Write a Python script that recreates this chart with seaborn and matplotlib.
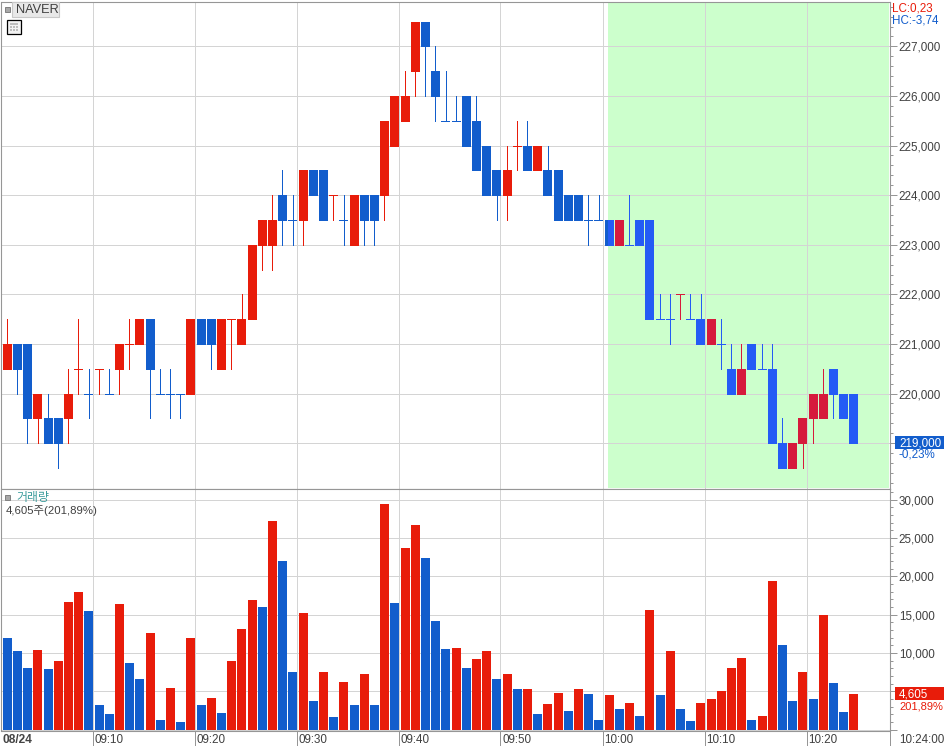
import numpy as np
import pandas as pd
import matplotlib
matplotlib.use("Agg")
import matplotlib.pyplot as plt
from matplotlib.patches import Rectangle
from matplotlib.ticker import MultipleLocator, FixedLocator
from matplotlib.transforms import ScaledTranslation
import seaborn as sns

OPEN = [220500,221000,221000,219500,219500,219500,219500,220500,220000,220500,
        220000,220500,221000,221000,221500,220000,220000,220000,220000,221500,
        221500,220500,221500,221000,221500,223000,223000,224000,223500,223500,
        224500,224500,224000,223500,223000,224000,224000,224000,225000,225500,
        226500,227500,226500,225500,225500,226000,225500,225000,224500,224000,
        225000,225000,224500,224500,224500,224000,224000,223500,223500,223500,
        223000,223000,223500,223500,221500,221500,222000,221500,221500,221000,
        221000,220500,220000,221000,220500,220500,219000,218500,219000,219500,
        219500,220500,220000,220000]
CLOSE = [221000,220500,219500,220000,219000,219000,220000,220500,220000,220500,
         220000,221000,221000,221500,220500,220000,220000,220000,221500,221000,
         221000,221500,221500,221500,223000,223500,223500,223500,223500,224500,
         224000,223500,224000,223500,224000,223500,223500,225500,226000,226000,
         227500,227000,226000,225500,225500,225000,224500,224000,224000,224500,
         225000,224500,225000,224000,223500,223500,223500,223500,223500,223000,
         223500,223000,223000,221500,221500,221500,222000,221500,221000,221500,
         221000,220000,220500,220500,220500,219000,218500,219000,219500,220000,
         220000,220000,219500,219000]
HIGH = [221500,221000,221000,220000,220000,219500,220500,221500,220500,220500,
        220500,221000,221500,221500,221500,220500,220500,220000,221500,221500,
        221500,221500,221500,222000,223000,223500,224000,224500,224000,224500,
        224500,224500,224000,224000,224000,224000,224000,225500,226000,226500,
        227500,227500,227000,226500,226000,226000,226000,225000,224500,225000,
        225500,225500,225000,225000,224500,224000,224000,224000,224000,223500,
        223500,224000,223500,223500,222000,222000,222000,222000,222000,221500,
        221500,221000,221000,221000,221000,221000,219500,219000,219500,220000,
        220500,220500,220000,220000]
LOW = [220500,220000,219000,219000,219000,218500,219000,220000,219500,220000,
       220000,220000,220500,221000,219500,220000,219500,219500,220000,221000,
       220500,220500,220500,221000,221500,222500,222500,223000,223000,223000,
       224000,223500,223500,223000,223000,223000,223000,223500,225000,225500,
       226000,226000,225500,225500,225500,225000,224500,224000,223500,223500,
       224500,224500,224500,224000,223500,223500,223500,223000,223500,223000,
       223000,223000,223000,221500,221500,221000,221500,221500,221000,221000,
       220500,220000,220000,220500,220500,219000,218500,218500,218500,219000,
       219500,219500,219500,219000]
CANDLE_DIR = ("RBBRBBRRBR" "BRRRBBBBRB" "BRRRRRRBBR" "BBRBRBBRRR"
              "RBBBBBBBBR" "RBRBBBBBBB" "RBBBBBRBBR" "BBRBBBBRRR" "RBBB")

VOLUME = [11880,10310,8090,10440,7960,9000,16700,18000,15400,3260,
          2090,16440,8740,6660,12660,1300,5480,1040,12000,3260,
          4180,2220,9000,13180,16960,16050,27140,21920,7570,15140,
          3780,7570,1700,6260,3260,7310,3260,29360,16570,23620,
          26620,22320,14220,10570,10700,8090,9140,10310,6660,7310,
          5350,5350,2090,3390,4830,2480,5350,4700,1300,4570,
          2740,3520,1830,15530,4570,10310,2740,1170,3520,4050,
          5090,8090,9400,1300,1830,19440,11090,3780,7570,4050,
          14880,6130,2350,4605]
VOLUME_DIR = ("BBBRBRRRBB" "BRBBRBRBRB" "RBRRRBRBBR" "BRBRBRBRBR"
              "RBBBRBRRBR" "BRBRRBRBBR" "BRBRBRBBRR" "RRRBRRBBRB" "RBBR")

PRICE_TICKS = [220000,221000,222000,223000,224000,225000,226000,227000]
VOLUME_TICKS = [5000,10000,15000,20000,25000,30000]
TIME_TICKS = [10,20,30,40,50,60,70,80]
TIME_LABELS = ["09:10","09:20","09:30","09:40","09:50","10:00","10:10","10:20"]

RED, BLUE = "#E81C0A", "#125DCC"
RED_Z, BLUE_Z = "#D61A3C", "#245BF5"
GRID, SPINE, TXT = "#D4D4D4", "#969696", "#404040"
W, H = 945, 746
GRID0 = 92.5

sns.set_theme(style="white")
plt.rcParams["font.family"] = ["Liberation Sans", "Noto Sans CJK KR", "DejaVu Sans"]
plt.rcParams["axes.unicode_minus"] = False

fig = plt.figure(figsize=(W / 100, H / 100), dpi=100, facecolor="white")

def box(l, t, r, b):
    return [l / W, 1 - b / H, (r - l) / W, (b - t) / H]

ax_p = fig.add_axes(box(1.5, 1.5, 890.5, 488.5))
ax_v = fig.add_axes(box(1.5, 488.5, 890.5, 730.5), sharex=ax_p)

POS = np.arange(len(OPEN)) + 1.65
df = pd.DataFrame(dict(pos=POS, o=OPEN, c=CLOSE, h=HIGH, l=LOW, d=list(CANDLE_DIR)))
df["bottom"] = df[["o", "c"]].min(axis=1) - 20
df["height"] = (df["o"] - df["c"]).abs() + 20

zone_left = 10 + (608 - GRID0) / 10.2
ax_p.axvspan(zone_left, 10 + (889 - GRID0) / 10.2, ymin=0.002, ymax=0.9975,
             color="#CCFFCC", lw=0, zorder=1)
clip = Rectangle((zone_left, 218000), 40, 11000, transform=ax_p.transData)

def candles(colors, clipped):
    for code, col in zip("RB", colors):
        sub = df[df.d == code]
        n0 = len(ax_p.patches)
        sns.barplot(x=sub.pos.values, y=sub.height.values, bottom=sub.bottom.values,
                    native_scale=True, width=0.88, color=col, saturation=1,
                    errorbar=None, linewidth=0, zorder=3, ax=ax_p)
        wick = ax_p.vlines(sub.pos.values - 0.03, sub.l.values, sub.h.values, colors=col,
                           linewidth=0.72, antialiased=False, zorder=3)
        if clipped:
            wick.set_clip_path(clip)
            for p in ax_p.patches[n0:]:
                p.set_clip_path(clip)

candles((RED, BLUE), False)
candles((RED_Z, BLUE_Z), True)

vdf = pd.DataFrame(dict(pos=POS, v=VOLUME, d=list(VOLUME_DIR)))
sns.barplot(data=vdf, x="pos", y="v", hue="d", palette={"R": RED, "B": BLUE},
            native_scale=True, width=0.88, dodge=False, saturation=1, errorbar=None,
            linewidth=0, legend=False, zorder=3, ax=ax_v)

ax_p.set_ylim(218085, 227905)
ax_v.set_ylim(-120, 31440)
ax_p.set_xlim(10 + (1.5 - GRID0) / 10.2, 10 + (890.5 - GRID0) / 10.2)

for ax, ticks, minor, labels in (
    (ax_p, [219000] + PRICE_TICKS, 200, [""] + [f"{t:,}" for t in PRICE_TICKS]),
    (ax_v, [0] + VOLUME_TICKS, 1000, [""] + [f"{t:,}" for t in VOLUME_TICKS]),
):
    ax.set(xlabel="", ylabel="")
    ax.set_axisbelow("line")
    ax.yaxis.set_major_locator(FixedLocator(ticks))
    ax.set_yticklabels(labels)
    ax.yaxis.set_minor_locator(MultipleLocator(minor))
    ax.grid(True, which="major", color=GRID, linewidth=0.72)
    ax.tick_params(axis="y", which="major", left=False, right=True, labelleft=False,
                   labelright=True, length=5, width=0.72, color=SPINE, pad=1,
                   labelsize=8.4, labelcolor=TXT)
    ax.tick_params(axis="y", which="minor", left=False, right=True, length=2,
                   width=0.72, color=SPINE)
    for s in ax.spines.values():
        s.set_visible(True)
        s.set_color(SPINE)
        s.set_linewidth(0.8)

ax_v.set_xticks(TIME_TICKS)
ax_v.set_xticklabels(TIME_LABELS)
ax_v.tick_params(axis="x", bottom=True, length=11, width=0.72, color=SPINE, pad=-8.3,
                 labelsize=8.4, labelcolor=TXT)
ax_p.tick_params(axis="x", bottom=False, labelbottom=False)
shift = ScaledTranslation(2 / 100, 0, fig.dpi_scale_trans)
for lab in ax_v.get_xticklabels():
    lab.set_ha("left")
    lab.set_transform(lab.get_transform() + shift)

def put(x, y, s, **kw):
    kw.setdefault("fontsize", 8.4)
    kw.setdefault("color", TXT)
    kw.setdefault("va", "center")
    kw.setdefault("zorder", 10)
    return fig.text(x / W, 1 - (y + 1.8) / H, s, **kw)

def rect(l, t, r, b, **kw):
    kw.setdefault("linewidth", 0)
    kw.setdefault("zorder", 9)
    fig.add_artist(Rectangle((l / W, 1 - b / H), (r - l) / W, (b - t) / H,
                             transform=fig.transFigure, **kw))

rect(890, 730.5, 891, 746, facecolor=SPINE)
put(3, 738, "08/24", fontweight="bold", fontsize=8.6, color="#444444")
put(899, 738, "10:24:00")

rect(5, 7, 10, 12, facecolor="#A8A8A8", edgecolor="#808080", linewidth=0.7)
rect(12.5, 2.5, 58.5, 16.5, facecolor="#E8E8E8", edgecolor="#C8C8C8", linewidth=0.8)
put(16, 8.5, "NAVER", fontsize=9.2)
rect(7.5, 20.5, 20.5, 33.5, facecolor="#F2F2F2", edgecolor="black", linewidth=0.9)
rect(10, 23, 18, 31, facecolor="#BDBDBD")
for gx in (12.5, 15.2):
    rect(gx, 25.5, gx + 0.8, 31, facecolor="#F2F2F2", zorder=9.5)
for gy in (25.2, 28):
    rect(10, gy, 18, gy + 0.8, facecolor="#F2F2F2", zorder=9.5)
put(892, 7, "LC:0,23", color=RED)
put(892, 18.5, "HC:-3,74", color=BLUE)

rect(895, 436, 945, 449, facecolor=BLUE)
put(899, 441.5, "219,000", color="white")
put(899, 453, "-0,23%", color=BLUE)

rect(5, 494.5, 10, 499.5, facecolor="#A8A8A8", edgecolor="#808080", linewidth=0.7)
put(16, 496.5, "거래량", color="#3A9C9C", fontsize=8.6)
put(6, 508.5, "4,605주(201,89%)", fontsize=8.2)
rect(895, 687, 945, 700, facecolor=RED)
put(899, 692.5, "4,605", color="white")
put(899, 704.5, "201,89%", color=RED, fontsize=8)

fig.savefig("out.png", dpi=100, facecolor="white")
